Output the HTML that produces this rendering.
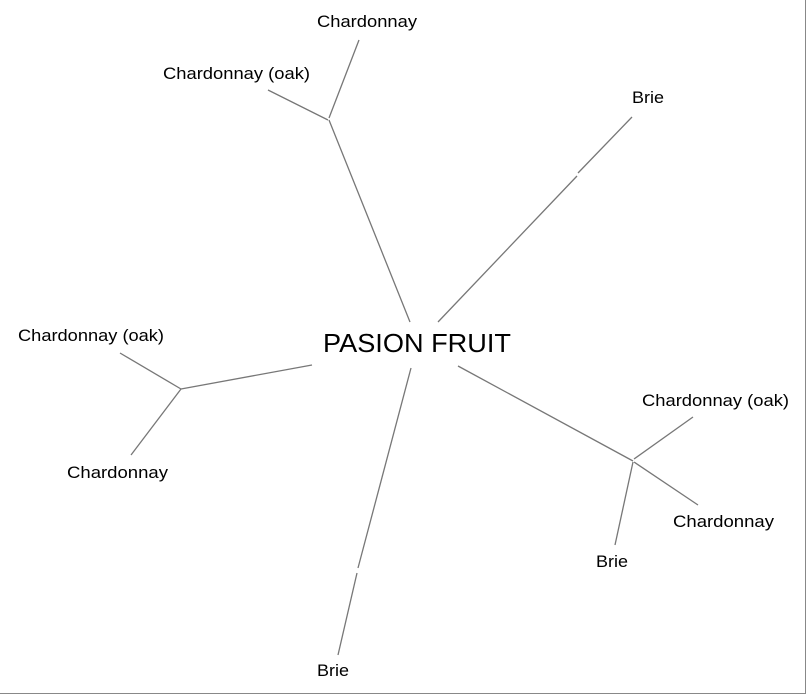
<!DOCTYPE html>
<html><head><meta charset="utf-8"><style>
html,body{margin:0;padding:0;background:#fff;}
svg{display:block;}
text{font-family:"Liberation Sans",Arial,sans-serif;fill:#000;}
</style></head><body>
<svg width="807" height="695" viewBox="0 0 807 695" xmlns="http://www.w3.org/2000/svg">
<rect x="0" y="0" width="807" height="695" fill="#fff"/>
<line x1="805.5" y1="0" x2="805.5" y2="694" stroke="#888" stroke-width="1"/>
<line x1="0" y1="693.5" x2="806" y2="693.5" stroke="#888" stroke-width="1"/>
<g stroke="#777" stroke-width="1.3" fill="none">
<line x1="410" y1="322" x2="329" y2="120"/>
<line x1="329" y1="118" x2="359" y2="40"/>
<line x1="328" y1="120" x2="268" y2="90"/>
<line x1="438" y1="322" x2="577" y2="176"/>
<line x1="578" y1="173" x2="632" y2="117"/>
<line x1="312" y1="365" x2="181" y2="389"/>
<line x1="181" y1="389" x2="120" y2="353"/>
<line x1="181" y1="389" x2="131" y2="455"/>
<line x1="458" y1="366" x2="633" y2="461"/>
<line x1="634" y1="459" x2="693" y2="417"/>
<line x1="634" y1="462" x2="698" y2="505"/>
<line x1="633" y1="462" x2="615" y2="545"/>
<line x1="411" y1="368" x2="358" y2="568"/>
<line x1="357" y1="573" x2="338" y2="655"/>
</g>
<text x="323" y="352" font-size="26" textLength="188" lengthAdjust="spacingAndGlyphs">PASION FRUIT</text>
<g font-size="17">
<text x="317" y="27" textLength="100" lengthAdjust="spacingAndGlyphs">Chardonnay</text>
<text x="163" y="79" textLength="147" lengthAdjust="spacingAndGlyphs">Chardonnay (oak)</text>
<text x="632" y="103" textLength="32" lengthAdjust="spacingAndGlyphs">Brie</text>
<text x="18" y="341" textLength="146" lengthAdjust="spacingAndGlyphs">Chardonnay (oak)</text>
<text x="67" y="478" textLength="101" lengthAdjust="spacingAndGlyphs">Chardonnay</text>
<text x="642" y="406" textLength="147" lengthAdjust="spacingAndGlyphs">Chardonnay (oak)</text>
<text x="673" y="527" textLength="101" lengthAdjust="spacingAndGlyphs">Chardonnay</text>
<text x="596" y="567" textLength="32" lengthAdjust="spacingAndGlyphs">Brie</text>
<text x="317" y="676" textLength="32" lengthAdjust="spacingAndGlyphs">Brie</text>
</g>
</svg>
</body></html>
